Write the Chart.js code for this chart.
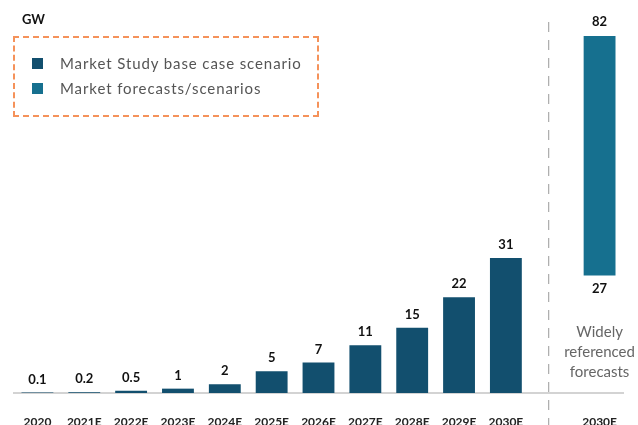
<!DOCTYPE html>
<html>
<head>
<meta charset="utf-8">
<script src="https://cdn.jsdelivr.net/npm/chart.js@4/dist/chart.umd.min.js"></script>
<style>
  body { margin: 0; background: #fff; font-family: Lato, "Open Sans", sans-serif; }
  #wrap { position: relative; width: 638px; height: 425px; overflow: hidden; }
  #grafico { position: absolute; left: 0; top: 0; }
  #unidade { position: absolute; left: 22px; top: 11px; font-weight: bold; font-size: 13px; color: #111; }
  #legenda {
    position: absolute; left: 13px; top: 36px; width: 306px; height: 81px;
    border: 2px dashed #f5925a; box-sizing: border-box;
  }
  .item { position: absolute; left: 17px; display: flex; align-items: center; font-size: 15px; color: #555; letter-spacing: 0.9px; }
  .item i { display: inline-block; width: 11px; height: 11px; margin-right: 17px; }
</style>
</head>
<body>
<div id="wrap">
  <canvas id="grafico" width="638" height="425"></canvas>
  <div id="unidade">GW</div>
  <div id="legenda">
    <div class="item" style="top:16px"><i style="background:#124f6e"></i>Market Study base case scenario</div>
    <div class="item" style="top:41px"><i style="background:#16708f"></i>Market forecasts/scenarios</div>
  </div>
</div>
<script>
// ===== DADOS =====
const categorias = ["2020", "2021E", "2022E", "2023E", "2024E", "2025E", "2026E", "2027E", "2028E", "2029E", "2030E", "", "2030E"];
const cenarioBase = [0.1, 0.2, 0.5, 1, 2, 5, 7, 11, 15, 22, 31, null, null];
const previsaoMin = [null, null, null, null, null, null, null, null, null, null, null, null, 27];
const previsaoMax = [null, null, null, null, null, null, null, null, null, null, null, null, 82];
const notaPrevisoes = ["Widely", "referenced", "forecasts"];

const corBase = "#124f6e";
const corPrevisao = "#16708f";

const faixaPrevisao = previsaoMin.map((v, i) => v === null ? null : [v, previsaoMax[i]]);

// ===== PLUGIN: rótulos, eixo x, linha tracejada e nota =====
const extras = {
    id: "extras",
    afterDatasetsDraw(chart) {
        const { ctx, scales: { x }, chartArea } = chart;
        ctx.save();
        ctx.textAlign = "center";
        ctx.textBaseline = "middle";

        // rótulos do eixo x
        ctx.font = "bold 12px Lato";
        ctx.fillStyle = "#222";
        categorias.forEach((c, i) => {
            if (c) ctx.fillText(c, x.getPixelForValue(i), chartArea.bottom + 29);
        });

        ctx.font = "bold 13px Lato";
        ctx.fillStyle = "#111";
        // base case: valor acima da barra
        chart.getDatasetMeta(0).data.forEach((bar, i) => {
            if (cenarioBase[i] === null) return;
            ctx.fillText(String(cenarioBase[i]), bar.x, bar.y - 13);
        });
        // faixa: máximo acima, mínimo abaixo
        chart.getDatasetMeta(1).data.forEach((bar, i) => {
            if (faixaPrevisao[i] === null) return;
            ctx.fillText(String(previsaoMax[i]), bar.x, bar.y - 14);
            ctx.fillText(String(previsaoMin[i]), bar.x, bar.base + 13);

            ctx.font = "15px Lato";
            ctx.fillStyle = "#666";
            notaPrevisoes.forEach((t, k) => ctx.fillText(t, bar.x, bar.base + 57 + k * 20));
        });

        // separador tracejado
        const xs = x.getPixelForValue(11) - 4;
        ctx.strokeStyle = "#999";
        ctx.lineWidth = 1;
        ctx.setLineDash([10, 8]);
        ctx.beginPath();
        ctx.moveTo(xs, 22);
        ctx.lineTo(xs, chart.height);
        ctx.stroke();
        ctx.restore();
    }
};

// ===== GRÁFICO =====
new Chart(document.getElementById("grafico"), {
    type: "bar",
    data: {
        labels: categorias,
        datasets: [
            {
                label: "Market Study base case scenario",
                data: cenarioBase,
                backgroundColor: corBase
            },
            {
                label: "Market forecasts/scenarios",
                data: faixaPrevisao,
                backgroundColor: corPrevisao
            }
        ]
    },
    options: {
        responsive: false,
        animation: false,
        skipNull: true,
        barPercentage: 1,
        categoryPercentage: 0.68,
        layout: { padding: { left: 14, right: 15, top: 10, bottom: 32 } },
        plugins: { legend: { display: false }, tooltip: { enabled: false } },
        scales: {
            x: {
                grid: { display: false, drawTicks: false },
                border: { display: true, color: "#d3d3d3", width: 2 },
                ticks: { display: false }
            },
            y: {
                display: false,
                min: 0,
                max: 88
            }
        }
    },
    plugins: [extras]
});
</script>
</body>
</html>
